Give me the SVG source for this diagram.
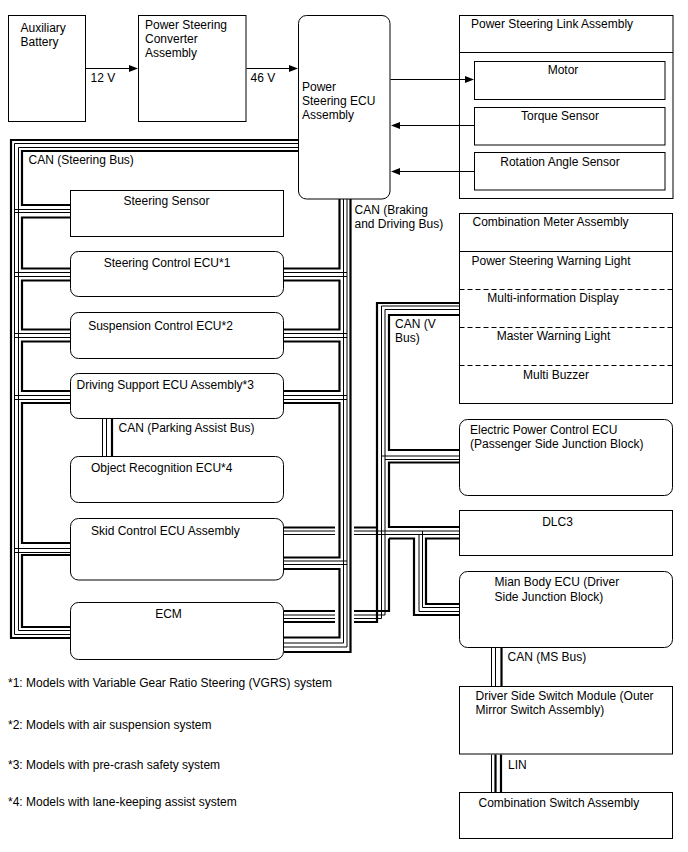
<svg xmlns="http://www.w3.org/2000/svg" width="688" height="852" viewBox="0 0 688 852">
<defs>
<style>
.box{fill:#fff;stroke:#000;stroke-width:1}
.t{font-family:"Liberation Sans",Arial,sans-serif;font-size:12px;fill:#000}
.m{text-anchor:middle}
.bk{fill:none;stroke:#000;stroke-width:2.2}
.tn{fill:none;stroke:#000;stroke-width:1}
.ar{fill:none;stroke:#000;stroke-width:1}
.hd{fill:#000;stroke:none}
.dash{stroke:#000;stroke-width:1;stroke-dasharray:5,3}
</style>
</defs>
<rect width="688" height="852" fill="#fff"/>

<g id="aux-battery">
<rect class="box" x="8.5" y="15.5" width="77" height="106"/>
<text class="t" x="20.5" y="32">Auxiliary</text>
<text class="t" x="20.5" y="46">Battery</text>
</g>
<g id="converter">
<rect class="box" x="138.5" y="15.5" width="107.5" height="106"/>
<text class="t" x="145" y="29">Power Steering</text>
<text class="t" x="145" y="43">Converter</text>
<text class="t" x="145" y="57">Assembly</text>
</g>
<g id="ps-ecu">
<rect class="box" x="298.5" y="15.5" width="91.5" height="183.5" rx="8"/>
<text class="t" x="302" y="91">Power</text>
<text class="t" x="302" y="105">Steering ECU</text>
<text class="t" x="302" y="119">Assembly</text>
</g>
<g id="link-assy">
<rect class="box" x="459.5" y="15.5" width="213.5" height="183"/>
<line x1="459.5" y1="52.5" x2="673" y2="52.5" stroke="#000"/>
<text class="t" x="471" y="28">Power Steering Link Assembly</text>
</g>
<g id="motor">
<rect class="box" x="474.5" y="61.5" width="190.5" height="38"/>
<text class="t m" x="563" y="74">Motor</text>
</g>
<g id="torque-sensor">
<rect class="box" x="474.5" y="107.5" width="190.5" height="37.5"/>
<text class="t m" x="560" y="120">Torque Sensor</text>
</g>
<g id="rotation-sensor">
<rect class="box" x="474.5" y="152.5" width="190.5" height="37.5"/>
<text class="t m" x="560" y="165.5">Rotation Angle Sensor</text>
</g>
<g id="comb-meter">
<rect class="box" x="459.5" y="213.5" width="213" height="190"/>
<line x1="459.5" y1="251.5" x2="672.5" y2="251.5" stroke="#000"/>
<line class="dash" x1="459.5" y1="289.5" x2="672.5" y2="289.5"/>
<line class="dash" x1="459.5" y1="327.5" x2="672.5" y2="327.5"/>
<line class="dash" x1="459.5" y1="365.5" x2="672.5" y2="365.5"/>
<text class="t" x="472.5" y="226">Combination Meter Assembly</text>
<text class="t" x="471.5" y="264.5">Power Steering Warning Light</text>
<text class="t m" x="553" y="302">Multi-information Display</text>
<text class="t m" x="553.5" y="340">Master Warning Light</text>
<text class="t m" x="556" y="378.5">Multi Buzzer</text>
</g>
<g id="epc-ecu">
<rect class="box" x="459.5" y="419.5" width="213" height="76" rx="8"/>
<text class="t" x="470" y="433.5">Electric Power Control ECU</text>
<text class="t" x="470" y="447.5">(Passenger Side Junction Block)</text>
</g>
<g id="dlc3">
<rect class="box" x="459.5" y="510.5" width="213" height="45"/>
<text class="t m" x="557.5" y="526">DLC3</text>
</g>
<g id="main-body-ecu">
<rect class="box" x="459.5" y="571.5" width="213" height="76" rx="8"/>
<text class="t" x="494.5" y="586">Mian Body ECU (Driver</text>
<text class="t" x="494.5" y="600.5">Side Junction Block)</text>
</g>
<g id="driver-switch">
<rect class="box" x="459.5" y="686.5" width="213" height="67.5"/>
<text class="t" x="475.5" y="699.5">Driver Side Switch Module (Outer</text>
<text class="t" x="475.5" y="713.5">Mirror Switch Assembly)</text>
</g>
<g id="comb-switch">
<rect class="box" x="459.5" y="792.5" width="213" height="46"/>
<text class="t" x="478.5" y="806.5">Combination Switch Assembly</text>
</g>
<g id="steering-sensor">
<rect class="box" x="70.5" y="190.5" width="213" height="46"/>
<text class="t m" x="166.5" y="205">Steering Sensor</text>
</g>
<g id="steering-control">
<rect class="box" x="70.5" y="251.5" width="213" height="45" rx="8"/>
<text class="t m" x="167" y="267">Steering Control ECU*1</text>
</g>
<g id="suspension-control">
<rect class="box" x="70.5" y="312.5" width="213" height="46" rx="8"/>
<text class="t m" x="160.5" y="330">Suspension Control ECU*2</text>
</g>
<g id="driving-support">
<rect class="box" x="70.5" y="373.5" width="213" height="45" rx="8"/>
<text class="t" x="76.5" y="388.5">Driving Support ECU Assembly*3</text>
</g>
<g id="object-recognition">
<rect class="box" x="70.5" y="456.5" width="213" height="46" rx="8"/>
<text class="t" x="91" y="472">Object Recognition ECU*4</text>
</g>
<g id="skid-control">
<rect class="box" x="70.5" y="518.5" width="213" height="61.5" rx="8"/>
<text class="t" x="91" y="535">Skid Control ECU Assembly</text>
</g>
<g id="ecm">
<rect class="box" x="70.5" y="602.5" width="213" height="57" rx="8"/>
<text class="t m" x="168.5" y="618">ECM</text>
</g>
<g id="notes">
<text class="t" x="8" y="686.5">*1: Models with Variable Gear Ratio Steering (VGRS) system</text>
<text class="t" x="8" y="728.5">*2: Models with air suspension system</text>
<text class="t" x="8" y="768.5">*3: Models with pre-crash safety system</text>
<text class="t" x="8" y="806">*4: Models with lane-keeping assist system</text>
</g>

<g id="connectors">
<!-- V bus -->
<path class="bk" d="M459,303 H377 V622 H284"/>
<path class="tn" d="M459,306 H381.5 V618.5 H284"/>
<path class="tn" d="M459,309.5 H385 V615 H284"/>
<path class="bk" d="M459,315 H389 V450 H459"/>
<path class="bk" d="M459,462.5 H389 V527 H459"/>
<path class="bk" d="M389,538.5 V611 H284"/>
<path class="bk" d="M389,538.5 H414 V615 H459"/>
<path class="bk" d="M459,538.5 H426 V604 H459"/>
<path class="tn" d="M381.5,456 H459 M385,459.5 H459"/>
<path class="tn" d="M284,531 H459 M284,534.5 H459"/>
<path class="bk" d="M284,527.5 H377"/>
<path class="tn" d="M422.5,531 V607.5 H459"/>
<path class="tn" d="M419,534.5 V611.5 H459"/>
<rect x="335" y="524" width="19" height="14" fill="#fff"/>
<rect x="335" y="608" width="19" height="17" fill="#fff"/>
<!-- Steering bus (left) -->
<path class="bk" d="M298,140 H11 V638 H70"/>
<path class="tn" d="M298,143.5 H14.5 V634.5 H70"/>
<path class="tn" d="M298,147.5 H18.5 V630.5 H70"/>
<path class="bk" d="M298,151 H22 V205 H70"/>
<path class="bk" d="M70,217.5 H22 V268.5 H70"/>
<path class="bk" d="M70,280.5 H22 V329.5 H70"/>
<path class="bk" d="M70,341.5 H22 V391 H70"/>
<path class="bk" d="M70,403 H22 V543 H70"/>
<path class="bk" d="M70,555 H22 V627 H70"/>
<path class="tn" d="M14.5,209.5 H70 M14.5,212.5 H70 M14.5,272.5 H70 M14.5,276.5 H70 M14.5,333.5 H70 M14.5,337.5 H70 M14.5,395.5 H70 M14.5,399.5 H70 M14.5,548.5 H70 M14.5,552.5 H70"/>
<!-- Braking and driving bus (right) -->
<path class="bk" d="M350.5,199 V652 H284"/>
<path class="tn" d="M347,199 V647 H284"/>
<path class="tn" d="M343.5,199 V643 H284"/>
<path class="bk" d="M339.5,199 V268.5 H284"/>
<path class="bk" d="M284,280.5 H339.5 V329.5 H284"/>
<path class="bk" d="M284,341.5 H339.5 V391 H284"/>
<path class="bk" d="M284,403 H339.5 V557.5 H284"/>
<path class="bk" d="M284,569 H339.5 V637.5 H284"/>
<path class="tn" d="M347,272.5 H284 M347,276.5 H284 M347,333.5 H284 M347,337.5 H284 M347,395.5 H284 M347,399.5 H284 M347,561 H284 M347,564.5 H284"/>
<!-- Parking assist bus -->
<path class="tn" d="M102.5,419 V456 M106.5,419 V456"/>
<path class="bk" d="M112,419 V456"/>
<!-- MS bus -->
<path class="tn" d="M491.5,648 V686 M495.5,648 V686"/>
<path class="bk" d="M501.5,648 V686"/>
<!-- LIN -->
<path class="tn" d="M491.5,754.5 V792"/>
<path class="bk" d="M495.5,754.5 V792 M501,754.5 V792"/>
<!-- arrows -->
<path class="ar" d="M86,68.5 H130"/>
<path class="hd" d="M138,68.5 L129,65 L129,72 z"/>
<path class="ar" d="M246.5,68.5 H290"/>
<path class="hd" d="M298,68.5 L289,65 L289,72 z"/>
<path class="ar" d="M390.5,79.5 H466"/>
<path class="hd" d="M474,79.5 L465,76 L465,83 z"/>
<path class="ar" d="M474,125.5 H399"/>
<path class="hd" d="M391,125.5 L400,122 L400,129 z"/>
<path class="ar" d="M474,171.5 H399"/>
<path class="hd" d="M391,171.5 L400,168 L400,175 z"/>
<text class="t" x="90.5" y="82">12 V</text>
<text class="t" x="250.5" y="82">46 V</text>
<text class="t" x="28.5" y="164">CAN (Steering Bus)</text>
<text class="t" x="354.5" y="213.5">CAN (Braking</text>
<text class="t" x="354.5" y="227.5">and Driving Bus)</text>
<text class="t" x="395" y="328">CAN (V</text>
<text class="t" x="395" y="342">Bus)</text>
<text class="t" x="118.5" y="431.5">CAN (Parking Assist Bus)</text>
<text class="t" x="507.5" y="660.5">CAN (MS Bus)</text>
<text class="t" x="508" y="768.5">LIN</text>
</g>
</svg>
